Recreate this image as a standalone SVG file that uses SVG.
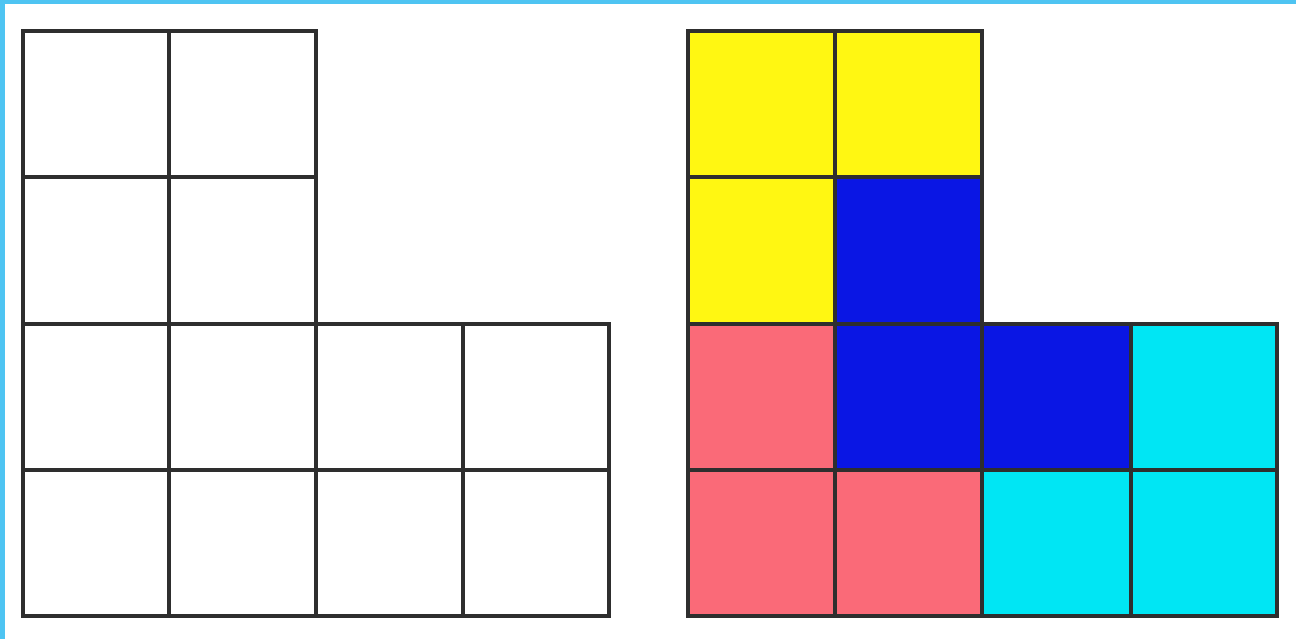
<svg xmlns="http://www.w3.org/2000/svg" width="1296" height="639" viewBox="0 0 1296 639">
<style>
.g{fill:none;stroke:#2e2e2e;stroke-width:4;stroke-linecap:square}
.y{fill:#fff712}.b{fill:#0a16e4}.p{fill:#fa6a78}.c{fill:#00e6f4}
</style>
<rect width="1296" height="639" fill="#ffffff"/>
<rect x="0" y="0" width="1296" height="4" fill="#4ec4f2"/>
<rect x="0" y="0" width="5" height="639" fill="#4ec4f2"/>
<g id="left-grid" class="g">
<path d="M23 31H316M23 177H316M23 324H609M23 470H609M23 616H609"/>
<path d="M23 31V616M169 31V616M316 31V616M463 324V616M609 324V616"/>
</g>
<g id="right-fill">
<rect class="y" x="688" y="31" width="147" height="146"/>
<rect class="y" x="835" y="31" width="147" height="146"/>
<rect class="y" x="688" y="177" width="147" height="147"/>
<rect class="b" x="835" y="177" width="147" height="147"/>
<rect class="p" x="688" y="324" width="147" height="146"/>
<rect class="b" x="835" y="324" width="147" height="146"/>
<rect class="b" x="982" y="324" width="149" height="146"/>
<rect class="c" x="1131" y="324" width="146" height="146"/>
<rect class="p" x="688" y="470" width="147" height="146"/>
<rect class="p" x="835" y="470" width="147" height="146"/>
<rect class="c" x="982" y="470" width="149" height="146"/>
<rect class="c" x="1131" y="470" width="146" height="146"/>
</g>
<g id="right-grid" class="g">
<path d="M688 31H982M688 177H982M688 324H1277M688 470H1277M688 616H1277"/>
<path d="M688 31V616M835 31V616M982 31V616M1131 324V616M1277 324V616"/>
</g>
</svg>
